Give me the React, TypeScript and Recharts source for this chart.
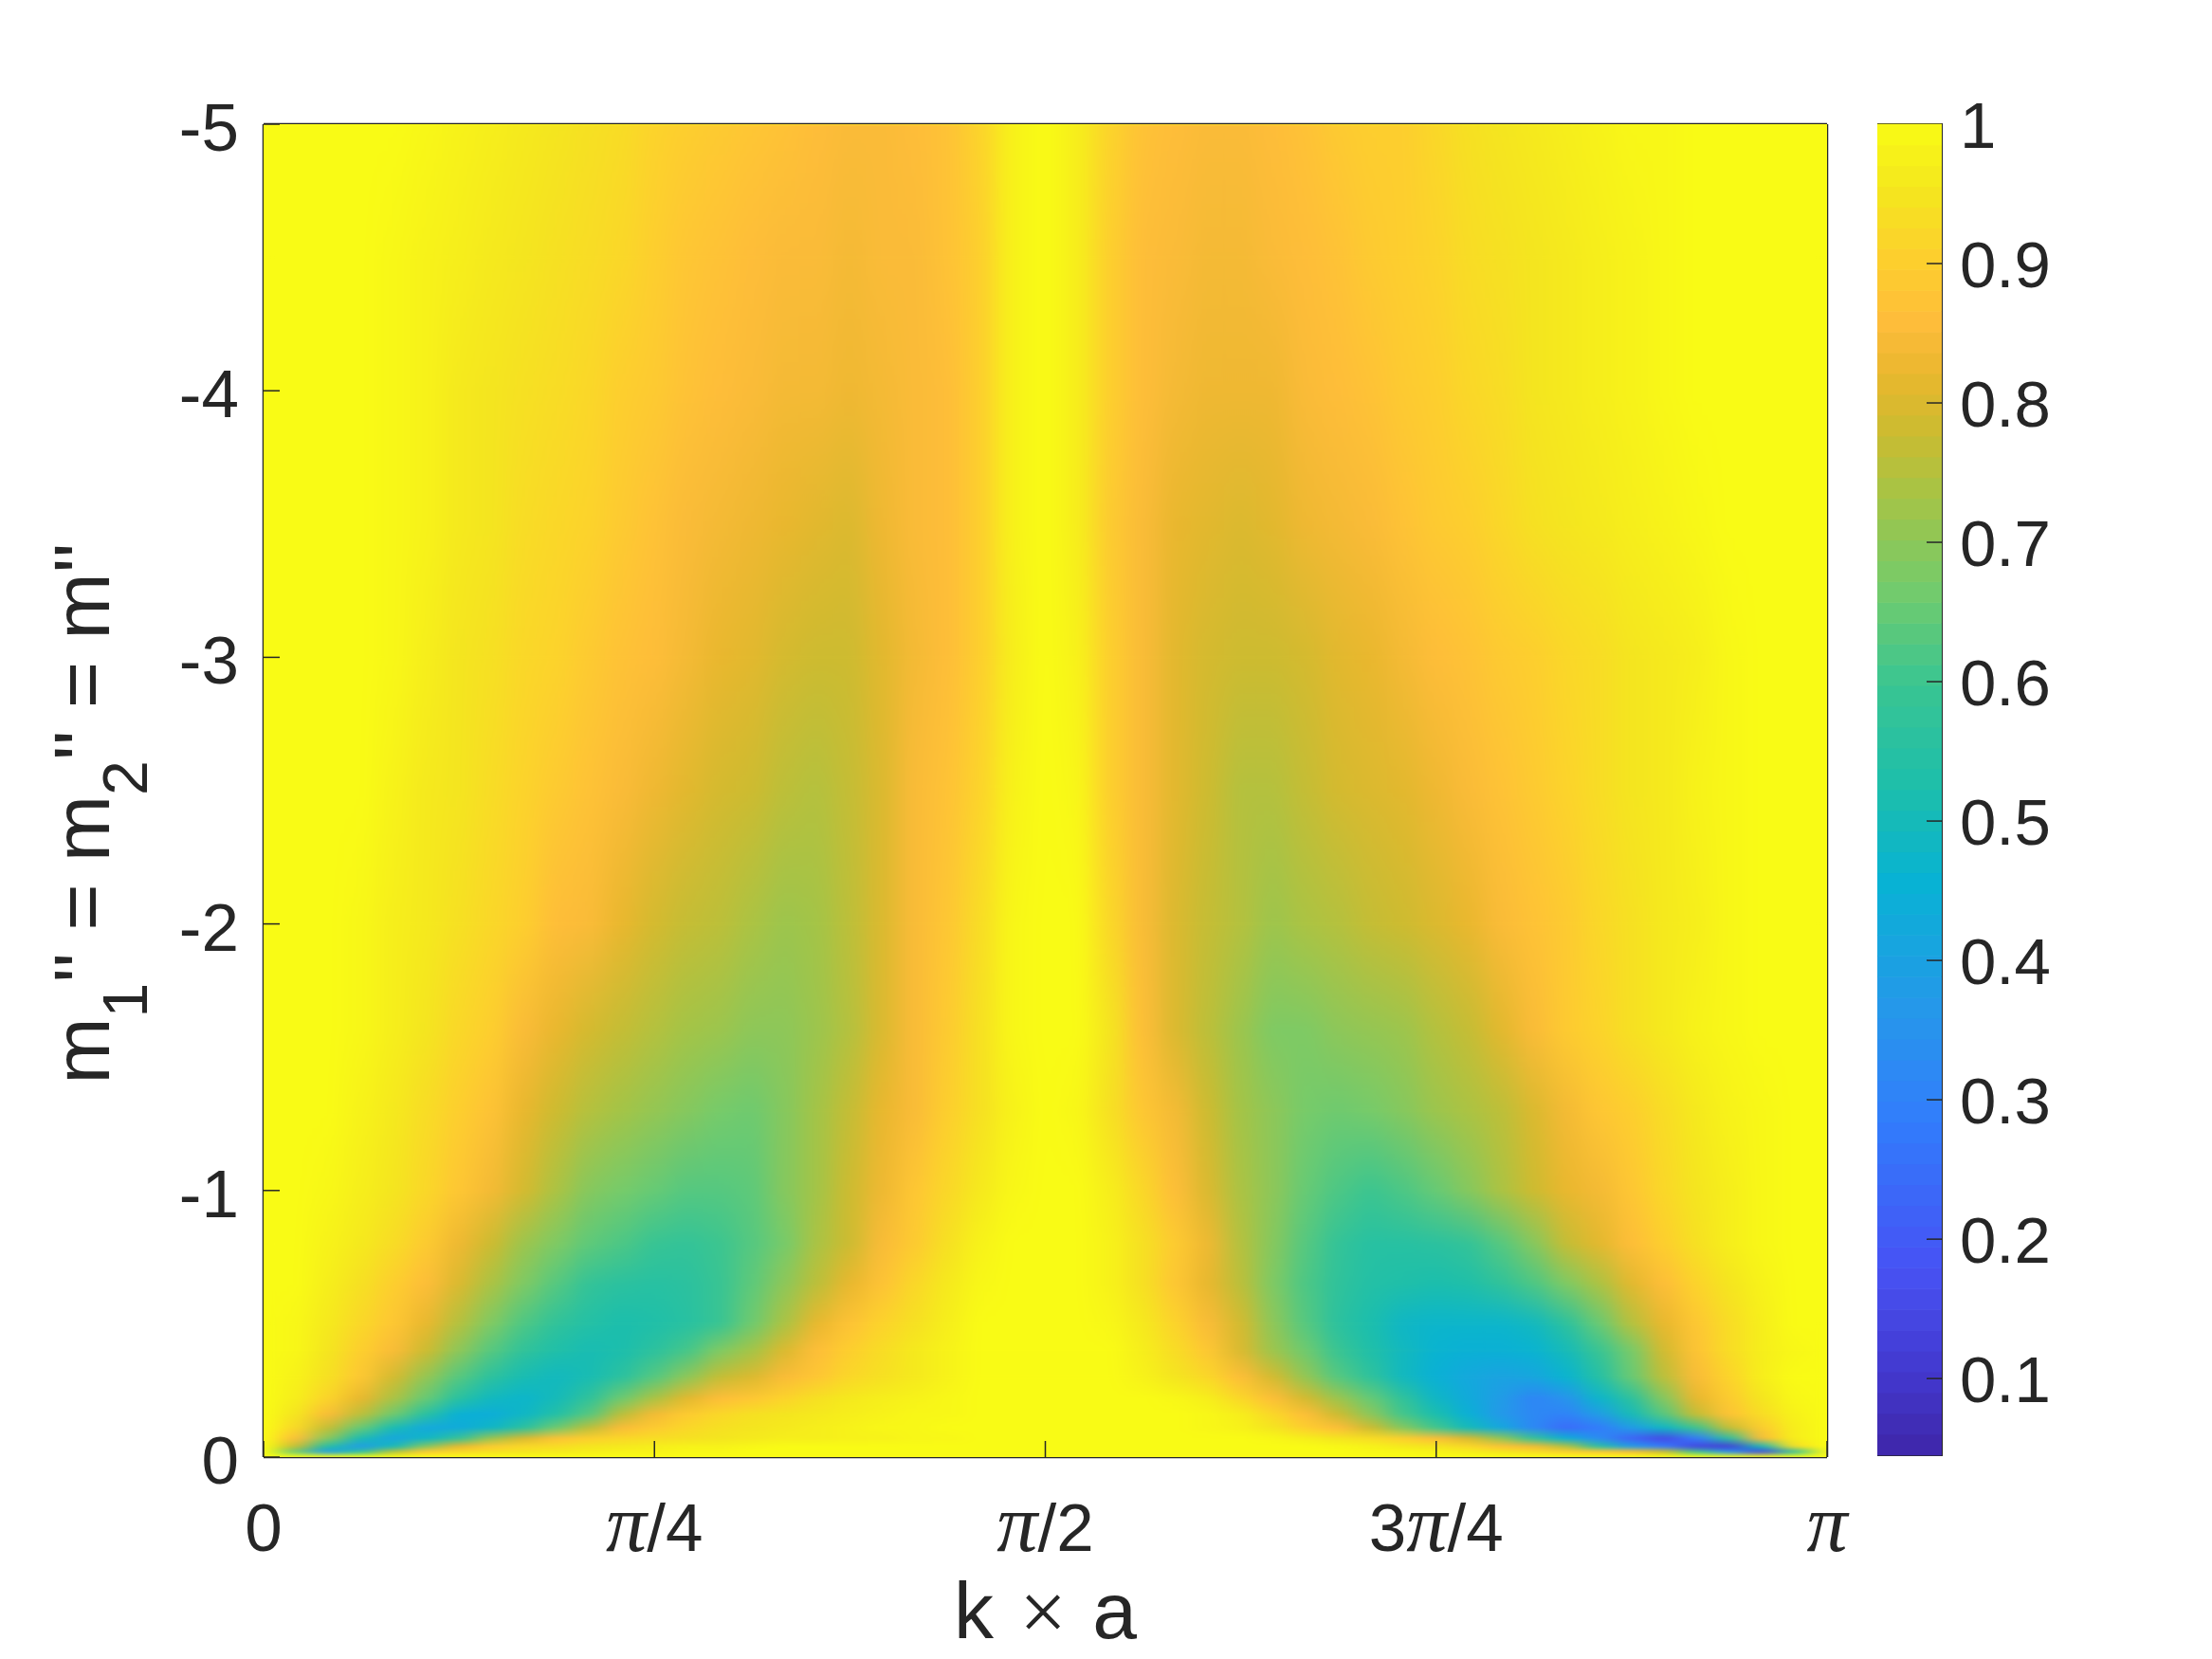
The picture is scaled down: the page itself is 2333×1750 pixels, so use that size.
import { ScatterChart, Scatter, XAxis, YAxis, ReferenceArea } from 'recharts';

/* -------------------------------------------------------------------------- */
/*  Data                                                  */
/* -------------------------------------------------------------------------- */

const xTickLabels = ['0', 'π/4', 'π/2', '3π/4', 'π'];
const yTickValues = [0, -1, -2, -3, -4, -5];
const colorbarTicks = [1, 0.9, 0.8, 0.7, 0.6, 0.5, 0.4, 0.3, 0.2, 0.1];

// rows of the map, from the top of the plot to the bottom
const mRows = [-5, -4.5, -4, -3.5, -3, -2.5, -2, -1.6, -1.3, -1, -0.8, -0.65, -0.5, -0.4, -0.3, -0.22, -0.16, -0.11, -0.07, -0.04, -0.02, 0];

// value x 100, 49 columns from k = 0 to k = pi
const cellRows = [
  [100,100,100,100,100,99,98,97,96,95,94,93,91,90,89,88,87,86,85,85,86,87,91,98,100,97,91,87,86,85,85,86,87,89,90,90,92,94,95,96,97,98,99,99,100,100,100,100,100],
  [100,100,100,100,99,98,97,96,95,94,93,92,90,88,87,86,85,85,84,85,85,87,90,98,100,97,90,86,85,84,84,85,86,87,89,90,91,93,94,95,96,97,98,99,100,100,100,100,100],
  [100,100,100,100,99,98,96,95,94,93,92,90,89,87,86,85,84,84,83,84,85,86,90,98,100,97,90,86,84,83,83,83,85,86,87,89,90,92,93,95,96,97,98,99,100,100,100,100,100],
  [100,100,100,100,99,98,96,95,93,92,91,89,87,85,84,83,82,81,80,83,85,86,90,98,100,97,89,85,82,81,80,81,83,84,85,87,89,90,92,94,95,96,97,98,99,100,100,100,100],
  [100,100,100,100,99,97,95,94,92,91,89,87,86,84,82,81,79,78,78,81,84,86,90,97,100,98,90,85,81,79,78,78,79,81,82,84,86,87,89,90,92,93,95,96,97,99,100,100,100],
  [100,100,100,100,98,96,95,93,91,89,87,85,83,81,79,78,76,75,77,80,85,87,91,98,100,99,90,85,81,78,75,75,77,79,80,81,83,85,87,89,91,93,95,96,98,99,100,100,100],
  [100,100,100,99,97,96,94,92,90,86,85,82,79,77,76,74,72,73,76,80,85,88,93,99,100,100,92,85,80,77,75,72,74,75,77,78,80,82,85,87,89,92,94,96,97,99,100,100,100],
  [100,100,100,99,97,95,92,90,85,82,79,77,75,73,72,70,70,72,75,80,85,89,94,99,100,100,95,86,80,76,72,68,68,70,71,72,75,77,81,85,89,91,94,96,98,99,100,100,100],
  [100,100,100,98,96,93,90,87,82,78,75,73,71,69,67,66,69,73,77,82,85,90,94,98,100,99,94,88,84,78,73,70,67,66,67,69,72,74,76,80,84,88,90,93,96,98,99,100,100],
  [100,100,99,97,95,92,88,84,79,74,69,67,65,63,63,64,69,73,78,83,88,92,96,99,100,100,97,92,86,80,74,70,65,62,60,62,65,69,74,78,82,84,88,92,95,97,99,100,100],
  [100,100,98,96,93,89,83,78,72,68,64,62,59,58,60,63,67,74,78,85,89,94,98,100,100,100,98,94,89,83,75,69,63,58,55,55,56,58,63,69,77,81,86,90,94,97,99,100,100],
  [100,100,97,94,90,86,80,74,68,63,58,56,55,56,59,64,70,76,82,87,92,96,99,100,100,100,98,94,88,82,76,68,62,57,54,53,52,53,57,62,68,74,81,86,91,95,98,100,100],
  [100,99,96,92,88,82,75,68,62,57,54,52,53,55,59,66,74,82,87,91,94,97,100,100,100,100,99,96,91,85,79,70,63,56,52,48,47,47,47,49,56,65,75,82,88,93,97,100,100],
  [100,99,95,90,85,78,70,63,57,53,51,52,56,61,68,73,80,86,90,93,96,98,100,100,100,100,100,97,93,88,80,72,66,59,53,49,46,45,45,46,50,59,67,79,87,93,97,99,100],
  [100,98,94,88,79,71,63,56,51,49,51,56,63,70,77,80,85,88,92,94,96,98,100,100,100,100,100,98,95,92,86,79,71,63,57,49,45,42,40,41,46,54,65,76,85,91,97,100,100],
  [100,97,91,82,74,65,55,49,47,50,57,66,74,81,86,88,91,94,96,97,98,99,100,100,100,100,100,100,99,97,92,86,79,72,65,57,48,43,38,31,35,47,56,69,82,89,95,99,100],
  [100,95,85,76,66,55,45,44,48,54,63,76,84,89,92,94,95,96,97,98,99,99,100,100,100,100,100,100,100,99,97,92,86,78,70,61,52,45,37,32,30,38,50,63,77,87,93,98,100],
  [100,92,77,65,51,42,43,48,56,66,76,85,89,92,94,95,96,97,98,99,99,100,100,100,100,100,100,100,100,99,98,95,90,86,78,69,61,50,42,32,24,28,38,48,60,77,89,97,100],
  [100,86,69,51,41,48,58,72,80,87,90,92,93,94,95,96,97,97,98,98,99,99,100,100,100,100,100,100,100,100,100,99,97,95,93,90,86,80,71,58,45,33,22,15,28,55,85,97,100],
  [100,77,53,38,50,69,82,89,92,93,95,96,97,98,98,99,100,100,100,100,100,100,100,100,100,100,100,100,100,100,100,100,100,99,98,96,95,92,87,84,75,55,38,28,14,12,50,93,100],
  [100,65,38,55,75,88,92,94,95,96,97,98,98,99,99,100,100,100,100,100,100,100,100,100,100,100,100,100,100,100,100,100,100,100,99,99,98,97,95,93,90,88,85,78,60,35,14,55,98],
  [100,100,100,100,100,100,100,100,100,100,100,100,100,100,100,100,100,100,100,100,100,100,100,100,100,100,100,100,100,100,100,100,100,100,100,100,100,100,100,100,100,100,100,100,100,100,100,100,100],
];

// colormap anchors: position, r, g, b
const colormap = [
  [0, 62, 38, 168], [0.06, 66, 56, 205], [0.14, 71, 82, 244], [0.25, 50, 124, 252], [0.33, 39, 150, 235],
  [0.43, 8, 178, 212], [0.5, 28, 190, 172], [0.58, 58, 197, 145], [0.65, 115, 203, 108], [0.72, 165, 196, 70],
  [0.77, 205, 187, 48], [0.81, 232, 183, 46], [0.85, 254, 188, 58], [0.9, 253, 208, 45], [0.95, 244, 230, 30], [1, 249, 251, 21],
];

/* -------------------------------------------------------------------------- */
/*  Layout                                                                     */
/* -------------------------------------------------------------------------- */

const PLOT = { left: 278, top: 131, width: 1649, height: 1406 };
const BAR = { left: 1980, top: 131, width: 68, height: 1404 };
const BAR_MIN = 0.045;
const INK = '#262626';
const SANS = '"Liberation Sans", Arial, sans-serif';
const SERIF = '"Liberation Serif", serif';
const TICK_FONT = 71;
const LABEL_FONT = 84;
const CELL_W = PLOT.width / 48 + 1;
const PX_PER_M = PLOT.height / 5;

function colorOf(value: number) {
  const t = Math.max(0, Math.min(1, (value - BAR_MIN) / (1 - BAR_MIN)));
  let i = 0;
  while (i < colormap.length - 2 && colormap[i + 1][0] < t) i++;
  const a = colormap[i];
  const b = colormap[i + 1];
  const f = (t - a[0]) / (b[0] - a[0]);
  const c = [1, 2, 3].map((n) => Math.round(a[n] + (b[n] - a[n]) * f));
  return `rgb(${c[0]},${c[1]},${c[2]})`;
}

const cells: { id: string; k: number; m: number; top: number; bottom: number; span: number }[] = [];
for (let r = 0; r < mRows.length - 1; r++) {
  for (let c = 0; c < 49; c++) {
    cells.push({
      id: `c${r}-${c}`,
      k: (c / 48) * Math.PI,
      m: (mRows[r] + mRows[r + 1]) / 2,
      top: cellRows[r][c] / 100,
      bottom: cellRows[r + 1][c] / 100,
      span: mRows[r + 1] - mRows[r],
    });
  }
}

const barLevels = Array.from({ length: 64 }, (_, i) => ({ x: 0.5, v: BAR_MIN + ((i + 0.5) * (1 - BAR_MIN)) / 64 }));

/* -------------------------------------------------------------------------- */
/*  Shapes and ticks                                                           */
/* -------------------------------------------------------------------------- */

function HeatCell(props: any) {
  const { cx, cy, payload } = props;
  const h = payload.span * PX_PER_M + 0.6;
  return (
    <g>
      <defs>
        <linearGradient id={payload.id} x1="0" y1="0" x2="0" y2="1">
          <stop offset="0" stopColor={colorOf(payload.top)} />
          <stop offset="1" stopColor={colorOf(payload.bottom)} />
        </linearGradient>
      </defs>
      <rect x={cx - CELL_W / 2} y={cy - h / 2} width={CELL_W} height={h} fill={`url(#${payload.id})`} />
    </g>
  );
}

function BarCell(props: any) {
  const { cx, cy, payload } = props;
  const h = BAR.height / 64 + 0.6;
  return <rect x={cx - BAR.width / 2} y={cy - h / 2} width={BAR.width} height={h} fill={colorOf(payload.v)} />;
}

function BottomTick({ x, y, index }: any) {
  const parts = xTickLabels[index].split('π');
  return (
    <g>
      <line x1={x} x2={x} y1={y} y2={y - 17} stroke={INK} strokeWidth={1.5} />
      <text x={x} y={y + 99} textAnchor="middle" fontFamily={SANS} fontSize={TICK_FONT} fill={INK}>
        {parts.length === 1 ? (
          parts[0]
        ) : (
          <>
            {parts[0]}
            <tspan fontFamily={SERIF} fontStyle="italic" fontSize={86}>π</tspan>
            {parts[1]}
          </>
        )}
      </text>
    </g>
  );
}

function LeftTick({ x, y, payload }: any) {
  return (
    <g>
      <line x1={x} x2={x + 17} y1={y} y2={y} stroke={INK} strokeWidth={1.5} />
      <text x={x - 26} y={y + 28} textAnchor="end" fontFamily={SANS} fontSize={TICK_FONT} fill={INK}>
        {payload.value}
      </text>
    </g>
  );
}

function TopTick({ x, y }: any) {
  return <line x1={x} x2={x} y1={y} y2={y + 17} stroke={INK} strokeWidth={1.5} />;
}

function RightTick({ x, y }: any) {
  return <line x1={x} x2={x - 17} y1={y} y2={y} stroke={INK} strokeWidth={1.5} />;
}

function BarTick({ x, y, payload }: any) {
  return (
    <g>
      {payload.value !== 1 && <line x1={x} x2={x - 16} y1={y} y2={y} stroke={INK} strokeWidth={1.5} />}
      <text x={x + 19} y={y + 25} textAnchor="start" fontFamily={SANS} fontSize={69} fill={INK}>
        {payload.value}
      </text>
    </g>
  );
}

const xTicks = [0, Math.PI / 4, Math.PI / 2, (3 * Math.PI) / 4, Math.PI];

export default function App() {
  return (
    <div style={{ position: 'absolute', left: 0, top: 0, width: 2333, height: 1750, background: '#fff' }}>
      <style>{'.heatmap .recharts-scatter{filter:url(#heatBlur)}'}</style>
      <svg width={0} height={0} style={{ position: 'absolute' }}>
        <defs>
          <filter
            id="heatBlur"
            filterUnits="userSpaceOnUse"
            x={PLOT.left}
            y={PLOT.top}
            width={PLOT.width}
            height={PLOT.height}
            colorInterpolationFilters="sRGB"
          >
            <feFlood floodColor="#f9fb15" result="bg" />
            <feGaussianBlur in="SourceGraphic" stdDeviation="12 1.5" result="soft" />
            <feMerge>
              <feMergeNode in="bg" />
              <feMergeNode in="soft" />
            </feMerge>
          </filter>
        </defs>
      </svg>

      <div className="heatmap" style={{ position: 'absolute', left: 0, top: 0 }}>
        <ScatterChart
          width={2333}
          height={1750}
          margin={{
            left: PLOT.left - 80,
            top: PLOT.top - 1,
            right: 2333 - PLOT.left - PLOT.width - 1,
            bottom: 1750 - PLOT.top - PLOT.height - 60,
          }}
        >
          <XAxis
            dataKey="k"
            type="number"
            domain={[0, Math.PI]}
            ticks={xTicks}
            interval={0}
            height={60}
            tickSize={0}
            tickMargin={0}
            tickLine={false}
            tick={<BottomTick />}
            stroke={INK}
            strokeWidth={2.5}
          />
          <XAxis
            xAxisId="top"
            orientation="top"
            type="number"
            domain={[0, Math.PI]}
            ticks={xTicks}
            interval={0}
            height={1}
            tickSize={0}
            tickMargin={0}
            tickLine={false}
            tick={<TopTick />}
            stroke={INK}
            strokeWidth={2.5}
          />
          <YAxis
            dataKey="m"
            type="number"
            domain={[-5, 0]}
            reversed
            ticks={yTickValues}
            interval={0}
            width={80}
            tickSize={0}
            tickMargin={0}
            tickLine={false}
            tick={<LeftTick />}
            stroke={INK}
            strokeWidth={2.5}
          />
          <YAxis
            yAxisId="right"
            orientation="right"
            type="number"
            domain={[-5, 0]}
            reversed
            ticks={yTickValues}
            interval={0}
            width={1}
            tickSize={0}
            tickMargin={0}
            tickLine={false}
            tick={<RightTick />}
            stroke={INK}
            strokeWidth={2.5}
          />
          <Scatter data={cells} shape={<HeatCell />} isAnimationActive={false} />
          <text x={PLOT.left + PLOT.width / 2} y={1728} textAnchor="middle" fontFamily={SANS} fontSize={LABEL_FONT} fill={INK}>
            k{' '}
            <tspan fontFamily={SERIF} fontSize={88} dx={4} dy={2}>×</tspan>
            <tspan dx={4} dy={-2}> a</tspan>
          </text>
          <text
            transform="translate(115 858) rotate(-90)"
            textAnchor="middle"
            fontFamily={SANS}
            fontSize={LABEL_FONT}
            fill={INK}
          >
            m
            <tspan fontSize={66} dy={40}>1</tspan>
            <tspan dy={-40}>''</tspan>
            <tspan> = m</tspan>
            <tspan fontSize={66} dy={40}>2</tspan>
            <tspan dy={-40}>''</tspan>
            <tspan> = m''</tspan>
          </text>
        </ScatterChart>
      </div>

      <div style={{ position: 'absolute', left: BAR.left, top: 0 }}>
        <ScatterChart
          width={2333 - BAR.left}
          height={1750}
          margin={{ left: 0, top: BAR.top, right: 2333 - BAR.left - BAR.width - 160, bottom: 1750 - BAR.top - BAR.height }}
        >
          <XAxis dataKey="x" type="number" domain={[0, 1]} hide />
          <YAxis
            dataKey="v"
            type="number"
            orientation="right"
            domain={[BAR_MIN, 1]}
            ticks={colorbarTicks}
            interval={0}
            width={160}
            tickSize={0}
            tickMargin={0}
            tickLine={false}
            axisLine={false}
            tick={<BarTick />}
          />
          <Scatter data={barLevels} shape={<BarCell />} isAnimationActive={false} />
          <ReferenceArea x1={0} x2={1} y1={BAR_MIN} y2={1} fill="none" stroke={INK} strokeWidth={2} ifOverflow="visible" />
        </ScatterChart>
      </div>
    </div>
  );
}
